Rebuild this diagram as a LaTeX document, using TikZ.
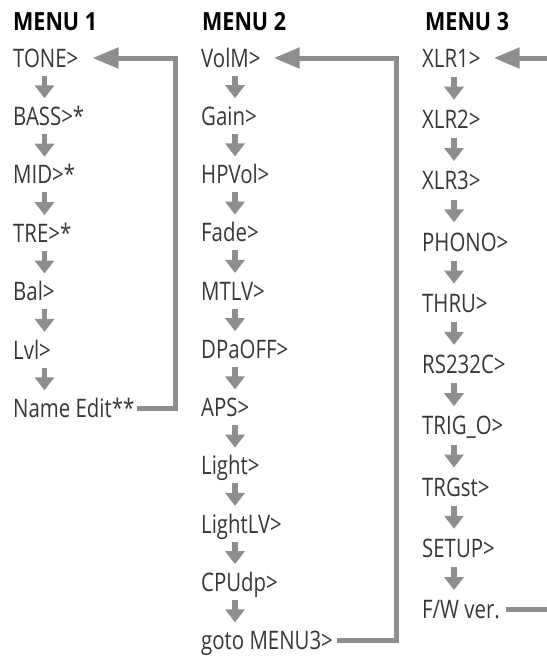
\documentclass[tikz,border=0pt]{standalone}
\usepackage{fontspec}
\setmainfont{Open Sans}[FakeStretch=0.8]
\newfontfamily\hdfont{Open Sans}[FakeStretch=0.86]
\usetikzlibrary{arrows.meta,calc}
\definecolor{arr}{RGB}{142,142,142}
\definecolor{txt}{RGB}{55,55,55}
\tikzset{
 item/.style={anchor=west, inner sep=0pt, text height=18.2pt, text depth=0pt, font=\fontsize{25.5}{26}\selectfont, text=txt},
 hd/.style={anchor=west, inner sep=0pt, text height=17.8pt, text depth=0pt, font=\fontsize{25}{26}\selectfont\hdfont\bfseries, text=black},
 dn/.style={draw=arr, line width=5.5pt, -{Triangle[length=13pt,width=19pt]}},
 dnA/.style={dn, shorten <=8.2pt, shorten >=8.8pt},
 dnC/.style={dn, shorten <=9.6pt, shorten >=10.3pt},
 loopl/.style={draw=arr, line width=5pt, line join=miter},
 loopa/.style={loopl, -{Triangle[length=26pt,width=20pt]}},
}
\begin{document}
\begin{tikzpicture}[x=1pt,y=-1pt]
\path[use as bounding box] (0,0) rectangle (547,657);
% headers
\node[hd] (h1) at (13,21.5) {MENU 1};
\node[hd] (h2) at (202,21.5) {MENU 2};
\node[hd] (h3) at (425,21.5) {MENU 3};
% column 1
\foreach \t [count=\i from 0] in {TONE>,BASS>*,MID>*,TRE>*,Bal>,Lvl>,Name Edit**}
  \node[item] (a\i) at (13,58+58.4*\i) {\t};
% column 2
\foreach \t [count=\i from 0] in {VolM>,Gain>,HPVol>,Fade>,MTLV>,DPaOFF>,APS>,Light>,LightLV>,CPUdp>,goto MENU3>}
  \node[item] (b\i) at (201,58+58.25*\i) {\t};
% column 3
\foreach \t [count=\i from 0] in {XLR1>,XLR2>,XLR3>,PHONO>,THRU>,RS232C>,TRIG\_O>,TRGst>,SETUP>,F/W ver.}
  \node[item] (c\i) at (422,58+61.3*\i) {\t};
% arrow axes
\coordinate (ax1) at (44.5,0);
\coordinate (ax2) at (235,0);
\coordinate (ax3) at (454,0);
\coordinate (v1) at (175,0);
\coordinate (v2) at (396,0);
\coordinate (e3) at (552,0);
% down arrows
\foreach \i [evaluate=\i as \j using int(\i+1)] in {0,...,5}
  \draw[dnA] (a\i.south -| ax1) -- (a\j.north -| ax1);
\foreach \i [evaluate=\i as \j using int(\i+1)] in {0,...,9}
  \draw[dnA] (b\i.south -| ax2) -- (b\j.north -| ax2);
\foreach \i [evaluate=\i as \j using int(\i+1)] in {0,...,8}
  \draw[dnC] (c\i.south -| ax3) -- (c\j.north -| ax3);
% loops
\draw[loopa] ([xshift=2pt]a6.east) -- (a6.east -| v1) -- (a0.east -| v1) -- ([xshift=14pt]a0.east);
\draw[loopa] ([xshift=4pt]b10.east) -- (b10.east -| v2) -- (b0.east -| v2) -- ([xshift=13pt]b0.east);
\draw[loopl] ([xshift=6pt]c9.east) -- (c9.east -| e3);
\draw[loopa] (c0.east -| e3) -- ([xshift=13pt]c0.east);
\end{tikzpicture}
\end{document}
